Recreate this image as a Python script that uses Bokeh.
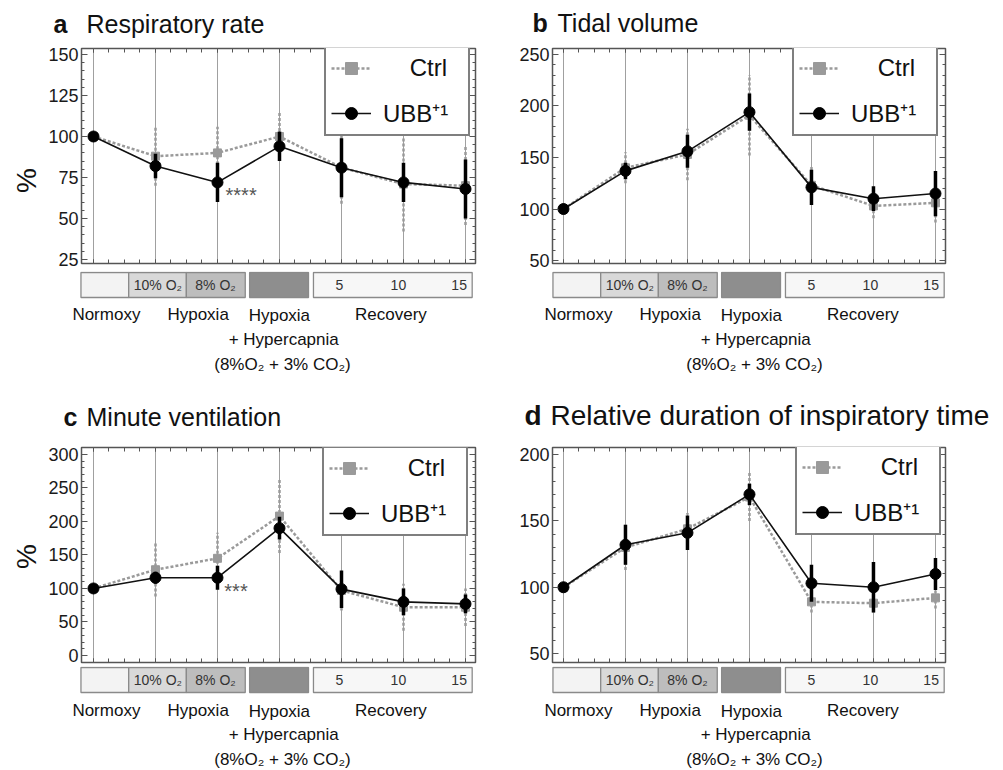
import numpy as np
from bokeh.plotting import figure
from bokeh.models import (ColumnDataSource, Range1d, FixedTicker, SingleIntervalTicker,
                          LinearAxis, Legend, LegendItem, Grid, CustomJSTickFormatter)
from bokeh.layouts import column, row
from bokeh.embed import file_html
from bokeh.resources import INLINE
from bokeh.core.properties import value

FONT = "Liberation Sans"

# ---------------- data ----------------
timepoints = [0, 1, 2, 3, 4, 5, 6]

# a  Respiratory rate (%)
rr_ctrl = [100, 88, 90, 100, 81, 71, 70]
rr_ctrl_err = [0, 18, 16, 15, 22, 29, 24]
rr_ubb = [100, 82, 72, 94, 81, 72, 68]
rr_ubb_err = [0, 7.5, 12, 9, 18, 12, 18]

# b  Tidal volume (%)
vt_ctrl = [100, 140, 153, 191, 123, 103, 106]
vt_ctrl_err = [0, 15, 25, 39, 19, 12, 19]
vt_ubb = [100, 137, 156, 194, 121, 110, 115]
vt_ubb_err = [0, 8, 16, 18, 17, 12, 22]

# c  Minute ventilation (%)
mv_ctrl = [100, 128, 145, 208, 97, 72, 72]
mv_ctrl_err = [0, 40, 38, 55, 30, 35, 28]
mv_ubb = [100, 116, 116, 190, 99, 80, 77]
mv_ubb_err = [0, 9, 18, 17, 28, 20, 14]

# d  Relative duration of inspiratory time (%)
ti_ctrl = [100, 130, 144, 168, 89, 88, 92]
ti_ctrl_err = [0, 17, 12, 18, 8, 7, 8]
ti_ubb = [100, 132, 141, 170, 103, 100, 110]
ti_ubb_err = [0, 15, 13, 8, 14, 19, 12]

series_names = ["Ctrl", "UBB\u207a\u00b9"]
bar_labels = ["10% O\u2082", "8% O\u2082", "5", "10", "15"]
phase_names = ["Normoxy", "Hypoxia", "Hypoxia", "+ Hypercapnia",
               "(8%O\u2082 + 3% CO\u2082)", "Recovery"]
panel_letters = ["a", "b", "c", "d"]
panel_titles = ["Respiratory rate", "Tidal volume", "Minute ventilation",
                "Relative duration of inspiratory time"]
y_label = "%"
sig_marks = ["****", "***"]

# ---------------- layout constants ----------------
PHASE_L = [-0.17, 0.60, 1.53, 2.55, 3.58]
PHASE_R = [0.60, 1.53, 2.48, 3.50, 6.14]
PHASE_FILL = ["#f3f3f3", "#d9d9d9", "#bdbdbd", "#8e8e8e", "#f7f7f7"]
BAR_LABEL_X = [1.07, 2.0, 4.0, 4.95, 5.93]
PHASE_X = [0.24, 1.72, 3.03, 3.10, 3.08, 4.83]
CTRL_COL = "#9a9a9a"
EMPTY = "return ''"


def bare(width, height, xr, yr):
    f = figure(width=width, height=height, x_range=Range1d(*xr), y_range=Range1d(*yr),
               x_axis_location=None, y_axis_location=None,
               output_backend="svg", toolbar_location=None, frame_align=False,
               min_border_left=0, min_border_right=0, min_border_top=0, min_border_bottom=0)
    for g in f.grid:
        g.visible = False
    f.outline_line_color = None
    return f


def make_main(ctrl, ctrl_err, ubb, ubb_err, yr, yint, xr, fw, fh, bl, br, bt, bb,
              legend_loc, stars=None):
    p = figure(frame_width=fw, frame_height=fh,
               x_range=Range1d(*xr), y_range=Range1d(*yr),
               x_axis_location=None, y_axis_location=None,
               output_backend="svg", toolbar_location=None, frame_align=False,
               min_border_left=bl, min_border_right=br,
               min_border_top=bt, min_border_bottom=bb)
    for g in p.grid:
        g.visible = False
    p.outline_line_color = "#555555"
    p.outline_line_width = 1.5

    yt = SingleIntervalTicker(interval=yint, num_minor_ticks=5)
    xt = FixedTicker(ticks=timepoints, minor_ticks=[i / 4 for i in range(-1, 26)])
    common = dict(axis_line_color=None, major_tick_out=0, minor_tick_out=0,
                  major_tick_line_color="#555555", minor_tick_line_color="#555555")
    hidden = dict(formatter=CustomJSTickFormatter(code=EMPTY),
                  major_label_text_font_size="1px", major_label_standoff=0)
    left = LinearAxis(ticker=yt, major_tick_in=6, minor_tick_in=3,
                      major_label_text_font=FONT, major_label_text_font_size="18px",
                      major_label_text_color="#1a1a1a", major_label_standoff=3, **common)
    right = LinearAxis(ticker=yt, major_tick_in=6, minor_tick_in=3, **hidden, **common)
    top = LinearAxis(ticker=xt, major_tick_in=4, minor_tick_in=4, **hidden, **common)
    bottom = LinearAxis(ticker=xt, major_tick_in=4, minor_tick_in=4, **hidden, **common)
    p.add_layout(left, "left")
    p.add_layout(right, "right")
    p.add_layout(top, "above")
    p.add_layout(bottom, "below")
    p.add_layout(Grid(dimension=0, ticker=FixedTicker(ticks=timepoints),
                      grid_line_color="#a0a0a0", grid_line_width=1))

    x = np.array(timepoints, dtype=float)
    c = np.array(ctrl, dtype=float)
    ce = np.array(ctrl_err, dtype=float)
    u = np.array(ubb, dtype=float)
    ue = np.array(ubb_err, dtype=float)
    sc = ColumnDataSource(dict(x=x, y=c, lo=c - ce, hi=c + ce))
    su = ColumnDataSource(dict(x=x, y=u, lo=u - ue, hi=u + ue))

    p.segment(x0="x", y0="lo", x1="x", y1="hi", source=sc,
              line_color=CTRL_COL, line_width=2.5, line_dash="3 2")
    cl = p.line("x", "y", source=sc, line_color=CTRL_COL, line_width=2.5, line_dash="3 2")
    cm = p.scatter("x", "y", source=sc, marker="square", size=8,
                   fill_color=CTRL_COL, line_color=CTRL_COL)
    p.segment(x0="x", y0="lo", x1="x", y1="hi", source=su,
              line_color="black", line_width=3.5)
    ul = p.line("x", "y", source=su, line_color="#111111", line_width=1.6)
    um = p.scatter("x", "y", source=su, marker="circle", size=11,
                   fill_color="black", line_color="black")

    legend = Legend(items=[LegendItem(label="    " + series_names[0], renderers=[cl, cm]),
                           LegendItem(label=series_names[1], renderers=[ul, um])],
                    location=legend_loc, margin=0, padding=5, spacing=13,
                    glyph_width=40, glyph_height=30, label_height=30, label_width=80,
                    label_standoff=12, border_line_color="black", border_line_width=2,
                    background_fill_color="white", background_fill_alpha=1,
                    label_text_font=FONT, label_text_font_size="24px",
                    label_text_color="#111111")
    p.add_layout(legend)

    if stars is not None:
        p.text(x=[stars[1]], y=[stars[2]], text=[stars[0]],
               text_font=value(FONT), text_font_size=value("20px"), text_color="#555555",
               text_align="left", text_baseline="middle")
    return p


def make_header(width, height, letter, title, size, letter_x, title_x, mid_y):
    h = bare(width, height, (0, width), (height, 0))
    h.text(x=[letter_x], y=[mid_y], text=[letter], text_font=value(FONT),
           text_font_style="bold", text_font_size=value(size), text_color="#111111",
           text_baseline="middle", text_align="left")
    h.text(x=[title_x], y=[mid_y], text=[title], text_font=value(FONT),
           text_font_size=value(size), text_color="#111111",
           text_baseline="middle", text_align="left")
    return h


def make_sub(width, H, xr, bar_top, bar_bot, rows):
    s = bare(width, H, xr, (H, 0))
    s.quad(left=PHASE_L, right=PHASE_R, top=[bar_top] * 5, bottom=[bar_bot] * 5,
           fill_color=PHASE_FILL, line_color="#8a8a8a", line_width=1.3)
    mid = (bar_top + bar_bot) / 2
    s.text(x=BAR_LABEL_X, y=[mid] * len(bar_labels), text=bar_labels,
           text_align="center", text_baseline="middle",
           text_font=value(FONT), text_font_size=value("14px"), text_color="#333333")
    s.text(x=PHASE_X, y=rows, text=phase_names,
           text_align="center", text_baseline="middle",
           text_font=value(FONT), text_font_size=value("17px"), text_color="#111111")
    return s


STRIP_W = 45
COL1_W = 498 - STRIP_W   # screen x 45..498
COL2_W = 502             # screen x 498..1000
BL1 = 79 - STRIP_W

XR_L = (-0.1935, -0.1935 + 394 / 62)
XR_R = (-0.177, -0.177 + 393 / 62)
XR_SUB_L = ((STRIP_W - 91) / 62, (498 - 91) / 62)
XR_SUB_R = ((498 - 561) / 62, (1000 - 561) / 62)

# row 1
ha = make_header(COL1_W, 44, panel_letters[0], panel_titles[0], "25px",
                 53 - STRIP_W, 86 - STRIP_W, 23)
hb = make_header(COL2_W, 44, panel_letters[1], panel_titles[1], "25px", 32, 57, 22.5)
pa = make_main(rr_ctrl, rr_ctrl_err, rr_ubb, rr_ubb_err, (22.56, 153.66), 25, XR_L,
               394, 215, BL1, 25, 4, 8, (243, 127), stars=(sig_marks[0], 2.13, 64.6))
pb = make_main(vt_ctrl, vt_ctrl_err, vt_ubb, vt_ubb_err, (47.1, 255.8), 50, XR_R,
               393, 215, 52, 57, 4, 8, (240, 127))
ROWS1 = [42.5, 42.5, 44, 67.5, 93, 42.5]
sa = make_sub(COL1_W, 119, XR_SUB_L, 1, 26, ROWS1)
sb = make_sub(COL2_W, 119, XR_SUB_R, 1, 26, ROWS1)

# row 2
hc = make_header(COL1_W, 53, panel_letters[2], panel_titles[2], "25px",
                 63 - STRIP_W, 86 - STRIP_W, 26)
hd = make_header(COL2_W, 53, panel_letters[3], panel_titles[3], "28px", 24, 50, 24.5)
pc = make_main(mv_ctrl, mv_ctrl_err, mv_ubb, mv_ubb_err, (-10.5, 310.4), 50, XR_L,
               394, 215, BL1, 25, 4, 4, (241, 126), stars=(sig_marks[1], 2.11, 95.5))
pd_ = make_main(ti_ctrl, ti_ctrl_err, ti_ubb, ti_ubb_err, (43.3, 205.3), 50, XR_R,
                393, 215, 52, 57, 4, 4, (243, 127))
ROWS2 = [43.5, 43.5, 45, 67.5, 92.5, 43.5]
sc_ = make_sub(COL1_W, 102, XR_SUB_L, 1, 26, ROWS2)
sd = make_sub(COL2_W, 102, XR_SUB_R, 1, 26, ROWS2)

# left strip with the rotated "%" labels
strip = bare(STRIP_W, 768, (0, STRIP_W), (768, 0))
strip.text(x=[26, 26], y=[180, 556], text=[y_label, y_label], angle=np.pi / 2,
           text_font=value(FONT), text_font_size=value("28px"), text_color="#111111",
           text_align="center", text_baseline="middle")

layout = row(strip,
             column(ha, pa, sa, hc, pc, sc_, spacing=0),
             column(hb, pb, sb, hd, pd_, sd, spacing=0),
             spacing=0)

open("out.html", "w").write(file_html(layout, INLINE))
